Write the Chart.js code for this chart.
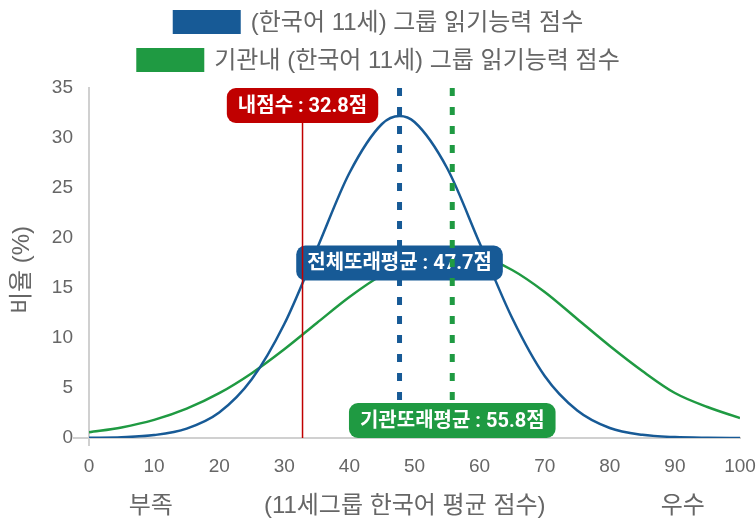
<!DOCTYPE html>
<html>
<head>
<meta charset="utf-8">
<script src="https://cdn.jsdelivr.net/npm/chart.js@4.4.1/dist/chart.umd.min.js"></script>
<style>
  html, body { margin: 0; padding: 0; background: #fff; }
  #wrap { width: 756px; height: 523px; }
</style>
</head>
<body>
<div id="wrap"><canvas id="chart"></canvas></div>
<script>
/* ── data ─────────────────────────────────────────────── */
var seriesNames = ['(한국어 11세) 그룹 읽기능력 점수', '기관내 (한국어 11세) 그룹 읽기능력 점수'];

var groupX = [0, 5, 10, 15, 20, 25, 30, 35, 40, 45, 47.7, 50, 55, 60, 65, 70, 75, 80, 85, 90, 95, 100];
var groupY = [0.02, 0.08, 0.29, 0.94, 2.55, 5.87, 11.4, 18.9, 26.5, 31.4, 32.2, 31.6, 27.0, 19.5, 12.0, 6.2, 2.75, 1.0, 0.32, 0.09, 0.02, 0.0];

var instX = [0, 5, 10, 15, 20, 25, 30, 35, 40, 45, 50, 55, 60, 65, 70, 75, 80, 85, 90, 95, 100];
var instY = [0.58, 1.06, 1.81, 2.93, 4.48, 6.48, 8.87, 11.5, 14.1, 16.3, 17.9, 18.6, 18.2, 16.8, 14.6, 11.9, 9.2, 6.7, 4.5, 3.1, 2.0];

var markerNames = ['내점수', '전체또래평균', '기관또래평균'];
var markerScores = [32.8, 47.7, 55.8];

var xTicks = [0, 10, 20, 30, 40, 50, 60, 70, 80, 90, 100];
var bottomTexts = ['부족', '(11세그룹 한국어 평균 점수)', '우수'];
var yTitle = '비율 (%)';

/* ── styles ───────────────────────────────────────────── */
var BLUE = '#175A96';
var GREEN = '#1F9A42';
var RED = '#C00000';
var AXIS = '#d0d0d0';
var TEXT = '#666666';
var FONT = "'Liberation Sans', 'Noto Sans CJK KR', sans-serif";
var TAG_FONT = "bold 20px Roboto, 'Noto Sans CJK KR', sans-serif";

Chart.defaults.font.family = FONT;

function toPoints(xs, ys) {
  return xs.map(function (x, i) { return { x: x, y: ys[i] }; });
}

function vLine(score, top) {
  return [{ x: score, y: top }, { x: score, y: 0 }];
}

function tagText(i) {
  return markerNames[i] + ' : ' + markerScores[i].toFixed(1) + '점';
}

function rounded(ctx, x, y, w, h, r) {
  ctx.beginPath();
  ctx.moveTo(x + r, y);
  ctx.lineTo(x + w - r, y);
  ctx.arcTo(x + w, y, x + w, y + r, r);
  ctx.lineTo(x + w, y + h - r);
  ctx.arcTo(x + w, y + h, x + w - r, y + h, r);
  ctx.lineTo(x + r, y + h);
  ctx.arcTo(x, y + h, x, y + h - r, r);
  ctx.lineTo(x, y + r);
  ctx.arcTo(x, y, x + r, y, r);
  ctx.closePath();
}

// anchor: 'top' | 'middle' | 'bottom' of the tag at value yVal
function drawTag(chart, i, yVal, anchor, color) {
  var ctx = chart.ctx;
  var text = tagText(i);
  ctx.save();
  ctx.font = TAG_FONT;
  var w = ctx.measureText(text).width + 22, h = 35;
  var cx = chart.scales.x.getPixelForValue(markerScores[i]);
  var py = chart.scales.y.getPixelForValue(yVal);
  var top = anchor === 'top' ? py : (anchor === 'bottom' ? py - h : py - h / 2);
  rounded(ctx, cx - w / 2, top, w, h, 9);
  ctx.fillStyle = color;
  ctx.fill();
  ctx.fillStyle = '#fff';
  ctx.textAlign = 'center';
  ctx.textBaseline = 'middle';
  ctx.fillText(text, cx, top + h / 2 + 1);
  ctx.restore();
}

var decorations = {
  id: 'decorations',
  afterDatasetDraw: function (chart, args) {
    // blue tag sits above the curves but under the red / green lines
    if (args.index === 2) drawTag(chart, 1, 17.5, 'middle', BLUE);
  },
  afterDatasetsDraw: function (chart) {
    drawTag(chart, 0, 35, 'top', RED);
    drawTag(chart, 2, 0, 'bottom', GREEN);
  },
  afterDraw: function (chart) {
    var ctx = chart.ctx, xs = chart.scales.x;
    ctx.save();
    ctx.fillStyle = TEXT;
    ctx.font = '24px ' + FONT;
    ctx.textAlign = 'center';
    ctx.textBaseline = 'middle';
    ctx.fillText(bottomTexts[0], xs.getPixelForValue(9.5), 506);
    ctx.fillText(bottomTexts[1], xs.getPixelForValue(48.5), 506);
    ctx.fillText(bottomTexts[2], xs.getPixelForValue(91.2), 506);

    ctx.translate(22, 270);
    ctx.rotate(-Math.PI / 2);
    ctx.fillText(yTitle, 0, 0);
    ctx.restore();

    // legend, one series per line, centred
    var colors = [BLUE, GREEN];
    var rowsY = [10, 48];
    ctx.save();
    ctx.font = '24px ' + FONT;
    ctx.textBaseline = 'middle';
    seriesNames.forEach(function (name, i) {
      var tw = ctx.measureText(name).width;
      var total = 68 + 10 + tw;
      var x0 = (chart.width - total) / 2;
      ctx.fillStyle = colors[i];
      ctx.fillRect(x0, rowsY[i], 68, 24);
      ctx.fillStyle = TEXT;
      ctx.fillText(name, x0 + 78, rowsY[i] + 13);
    });
    ctx.restore();
  }
};

function edgeTick(c) { return c.tick && c.tick.value === 0 ? AXIS : 'rgba(0,0,0,0)'; }

new Chart(document.getElementById('chart'), {
  type: 'line',
  data: {
    datasets: [
      { label: seriesNames[0], data: toPoints(groupX, groupY), borderColor: BLUE, backgroundColor: BLUE,
        borderWidth: 2.5, pointRadius: 0, cubicInterpolationMode: 'monotone', fill: false, order: 4 },
      { label: seriesNames[1], data: toPoints(instX, instY), borderColor: GREEN, backgroundColor: GREEN,
        borderWidth: 2.5, pointRadius: 0, cubicInterpolationMode: 'monotone', fill: false, order: 5 },
      { label: 'avg-all', data: vLine(markerScores[1], 35), borderColor: BLUE, borderWidth: 5,
        borderDash: [8, 11], pointRadius: 0, order: 3 },
      { label: 'mine', data: vLine(markerScores[0], 33), borderColor: RED, borderWidth: 1.5,
        pointRadius: 0, order: 2 },
      { label: 'avg-inst', data: vLine(markerScores[2], 35), borderColor: GREEN, borderWidth: 5,
        borderDash: [8, 11], pointRadius: 0, order: 1 }
    ]
  },
  options: {
    responsive: true, maintainAspectRatio: false,
    animation: false,
    layout: { padding: { top: 88, right: 0, bottom: 0, left: 0 } },
    plugins: { legend: { display: false }, tooltip: { enabled: false } },
    scales: {
      x: {
        type: 'linear', min: 0, max: 100,
        afterBuildTicks: function (s) { s.ticks = xTicks.map(function (v) { return { value: v }; }); },
        afterFit: function (s) { s.height = 85; s.paddingRight = 16; },
        ticks: { color: TEXT, font: { size: 19 }, padding: 9, maxRotation: 0 },
        grid: { drawOnChartArea: false, tickLength: 8, color: edgeTick, lineWidth: 2 },
        border: { color: AXIS, width: 2 }
      },
      y: {
        min: 0, max: 35,
        afterFit: function (s) { s.width = 89; },
        ticks: { stepSize: 5, color: TEXT, font: { size: 19 }, padding: 0 },
        grid: { drawOnChartArea: false, tickLength: 16, color: edgeTick, lineWidth: 2 },
        border: { color: AXIS, width: 2 }
      }
    }
  },
  plugins: [decorations]
});
</script>
</body>
</html>
